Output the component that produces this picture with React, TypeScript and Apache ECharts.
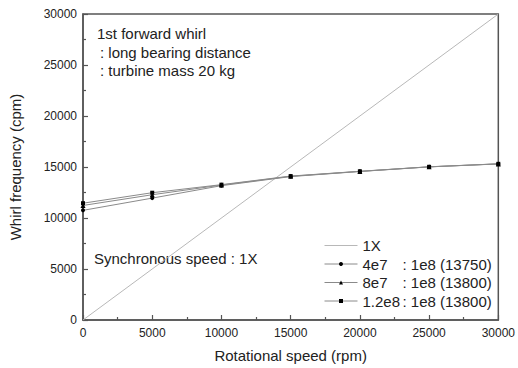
import React, { useEffect, useRef } from "react";
import * as echarts from "echarts";

const speeds = [0, 5000, 10000, 15000, 20000, 25000, 30000];
const sync1X = [[0, 0], [30000, 30000]];
const s4e7 = [10750, 11950, 13170, 14060, 14560, 15010, 15300];
const s8e7 = [11230, 12280, 13230, 14090, 14570, 15015, 15305];
const s12e8 = [11450, 12480, 13270, 14110, 14580, 15020, 15310];
const seriesNames = ["1X", "4e7", "8e7", "1.2e8"];
const legendSuffix: Record<string, string> = {
  "4e7": ": 1e8 (13750)",
  "8e7": ": 1e8 (13800)",
  "1.2e8": ": 1e8 (13800)",
};
const noteTitle = "1st forward whirl";
const noteLines = [": long bearing distance", ": turbine mass 20 kg"];
const syncNote = "Synchronous speed : 1X";

const FONT = "'Liberation Sans', Arial, sans-serif";
const TXT = "#222";
const DATA_LINE = "#8a8a8a";
const SYNC_LINE = "#b8b8b8";

export default function App() {
  const ref = useRef<HTMLDivElement>(null);
  useEffect(() => {
    if (!ref.current) return;
    const chart = echarts.init(ref.current, undefined, { renderer: "svg" });
    const pair = (arr: number[]) => speeds.map((x, i) => [x, arr[i]]);
    const axisCommon = {
      type: "value" as const,
      min: 0,
      max: 30000,
      interval: 5000,
      axisLine: { show: true, lineStyle: { color: "#555", width: 1.5 } },
      axisTick: { show: true, inside: true, length: 5, lineStyle: { color: "#555", width: 1.2 } },
      minorTick: { show: true, splitNumber: 2, length: 3, lineStyle: { color: "#555", width: 1.2 } },
      splitLine: { show: false },
      axisLabel: {
        color: TXT,
        fontFamily: FONT,
        fontSize: 12,
        formatter: (v: number) => String(v),
      },
      nameTextStyle: { color: TXT, fontFamily: FONT, fontSize: 15 },
      nameLocation: "middle" as const,
    };
    const dataSeries = (name: string, arr: number[], symbol: string, size: number) => ({
      name,
      type: "line",
      data: pair(arr),
      symbol,
      symbolSize: size,
      showAllSymbol: true,
      itemStyle: { color: "#000" },
      lineStyle: { color: DATA_LINE, width: 1 },
    });
    const legendItem = (name: string) =>
      name === "1X"
        ? { name, itemStyle: { opacity: 0 }, lineStyle: { color: SYNC_LINE, width: 1 } }
        : { name, lineStyle: { color: DATA_LINE, width: 1 } };
    chart.setOption({
      animation: false,
      backgroundColor: "#fff",
      textStyle: { fontFamily: FONT },
      grid: {
        left: 83,
        right: 17,
        top: 14,
        bottom: 46,
        show: true,
        borderColor: "#555",
        borderWidth: 1.5,
      },
      xAxis: {
        ...axisCommon,
        name: "Rotational speed (rpm)",
        nameGap: 28,
        axisLabel: { ...axisCommon.axisLabel, margin: 7 },
      },
      yAxis: {
        ...axisCommon,
        name: "Whirl frequency (cpm)",
        nameGap: 60,
        axisLabel: { ...axisCommon.axisLabel, margin: 6 },
      },
      legend: {
        show: true,
        orient: "vertical",
        left: 319,
        top: 232,
        itemWidth: 33,
        itemHeight: 5,
        itemGap: 1.5,
        lineStyle: { color: DATA_LINE, width: 1 },
        data: seriesNames.map(legendItem),
        textStyle: {
          color: TXT,
          fontFamily: FONT,
          fontSize: 15,
          lineHeight: 17,
          rich: {
            a: { width: 40, fontSize: 15, lineHeight: 17, fontFamily: FONT, color: TXT },
            b: { fontSize: 15, lineHeight: 17, fontFamily: FONT, color: TXT },
          },
        },
        formatter: (name: string) =>
          legendSuffix[name] ? `{a|${name}}{b|${legendSuffix[name]}}` : name,
      },
      series: [
        {
          name: "1X",
          type: "line",
          data: sync1X,
          symbol: "none",
          itemStyle: { color: SYNC_LINE },
          lineStyle: { color: SYNC_LINE, width: 1 },
        },
        dataSeries("4e7", s4e7, "circle", 4),
        dataSeries("8e7", s8e7, "triangle", 5),
        dataSeries("1.2e8", s12e8, "rect", 4),
      ],
      graphic: [
        {
          type: "text",
          left: 97,
          top: 26,
          style: { text: noteTitle, fill: TXT, font: `15px ${FONT}` },
        },
        {
          type: "text",
          left: 100,
          top: 44.5,
          style: { text: noteLines[0], fill: TXT, font: `15px ${FONT}` },
        },
        {
          type: "text",
          left: 100,
          top: 63,
          style: { text: noteLines[1], fill: TXT, font: `15px ${FONT}` },
        },
        {
          type: "text",
          left: 94,
          top: 250.5,
          style: { text: syncNote, fill: TXT, font: `15px ${FONT}` },
        },
      ],
    });
    return () => chart.dispose();
  }, []);
  return <div ref={ref} style={{ width: 518, height: 368, position: "absolute", left: 0, top: 0 }} />;
}
